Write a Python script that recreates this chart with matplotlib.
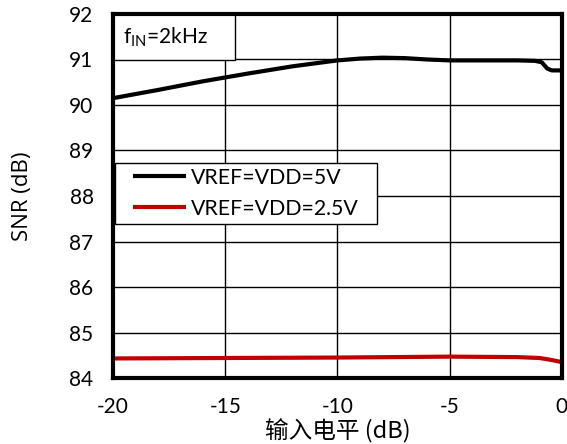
import matplotlib
matplotlib.use('Agg')
import matplotlib.pyplot as plt
from matplotlib.patches import Rectangle

plt.rcParams['font.family'] = ['Lato', 'DejaVu Sans']
plt.rcParams['mathtext.fontset'] = 'custom'
plt.rcParams['mathtext.rm'] = 'Lato'
plt.rcParams['mathtext.it'] = 'Lato'
plt.rcParams['axes.unicode_minus'] = False

# SNR vs input level, fIN = 2 kHz
x_5v = [-20, -18, -16, -14, -12, -10, -9, -8, -7, -6, -5, -4, -3, -2,
        -1.2, -0.9, -0.65, -0.45, 0]
snr_5v = [90.15, 90.33, 90.52, 90.69, 90.85, 90.98, 91.02, 91.04, 91.03,
          91.00, 90.98, 90.98, 90.98, 90.98, 90.97, 90.94, 90.80, 90.76, 90.76]

x_25v = [-20, -15, -10, -5, -2, -1, -0.5, 0]
snr_25v = [84.43, 84.44, 84.45, 84.47, 84.46, 84.44, 84.40, 84.35]

x_ticks = [-20, -15, -10, -5, 0]
y_ticks = [84, 85, 86, 87, 88, 89, 90, 91, 92]

BLACK = '#000000'
RED = '#C00000'

fig = plt.figure(figsize=(5.67, 4.44), dpi=100)
ax = fig.add_axes([0.1993, 0.1486, 0.7917, 0.8199])

ax.plot(x_5v, snr_5v, color=BLACK, lw=3.0, solid_capstyle='butt',
        label='VREF=VDD=5V', zorder=3)
ax.plot(x_25v, snr_25v, color=RED, lw=3.0, solid_capstyle='butt',
        label='VREF=VDD=2.5V', zorder=3)

ax.set_xlim(-20, 0)
ax.set_ylim(84, 92)
ax.set_xticks(x_ticks)
ax.set_yticks(y_ticks)
ax.tick_params(length=0, labelsize=15)
ax.tick_params(axis='x', pad=14)
ax.tick_params(axis='y', pad=14)
ax.grid(True, color='#000000', lw=1.0)
ax.set_axisbelow(True)
for sp in ax.spines.values():
    sp.set_linewidth(3)
    sp.set_zorder(5)

ax.set_ylabel('SNR (dB)', fontsize=16, family=['Open Sans'], labelpad=26)
ax.set_xlabel('输入电平 (dB)', fontsize=17,
              family=['Noto Sans CJK SC', 'DejaVu Sans'], labelpad=1)

# condition box in top-left corner
ax.add_patch(Rectangle((0, 0.874), 0.272, 0.126, transform=ax.transAxes,
                       facecolor='white', edgecolor='black', lw=1.0, zorder=4))
ax.text(0.022, 0.937, r'f$_{\mathrm{IN}}$=2kHz', transform=ax.transAxes,
        fontsize=15, va='center', ha='left', zorder=5)

# legend frame drawn separately so the entries can sit further in
ax.add_patch(Rectangle((0.0045, 0.423), 0.5835, 0.168, transform=ax.transAxes,
                       facecolor='white', edgecolor='black', lw=1.0, zorder=4))
leg = ax.legend(loc='upper left', bbox_to_anchor=(0.0445, 0.578),
                fontsize=15.3, frameon=False, handlelength=2.5,
                handletextpad=0.23, borderpad=0, labelspacing=0.53,
                borderaxespad=0)
leg.set_zorder(6)

fig.savefig('out.png', dpi=100, facecolor='white')
